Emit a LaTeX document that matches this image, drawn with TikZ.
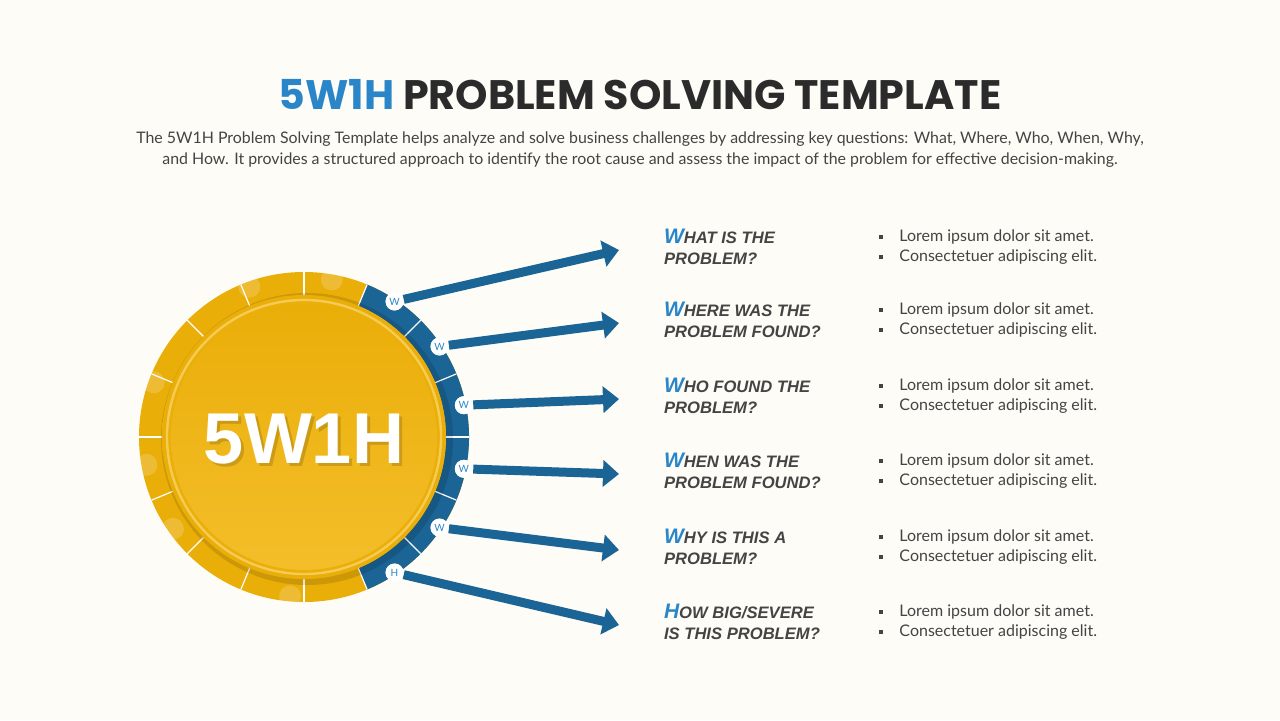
\documentclass[tikz,border=0pt]{standalone}
\usepackage{fontspec}
\setmainfont{Lato}
\newfontfamily\titlef{Poppins}
\newfontfamily\headf{Liberation Sans}
\usetikzlibrary{arrows.meta,calc}
\definecolor{bg}{HTML}{FDFCF6}
\definecolor{blu}{HTML}{1A6496}
\definecolor{lblu}{HTML}{2A86C8}
\definecolor{yel}{HTML}{EAAE08}
\definecolor{yel2}{HTML}{F4BE2A}
\definecolor{dark}{HTML}{2B2B2B}
\definecolor{txt}{HTML}{444444}
\tikzset{
  arr/.style={blu,line width=4.5pt,-{Triangle[length=8pt,width=13pt]}},
  wc/.style={circle,fill=white,inner sep=0pt,minimum size=9pt,font=\fontsize{5}{5}\selectfont\color{lblu}},
  head/.style={anchor=west,align=left,font=\headf\bfseries\itshape\fontsize{8.3}{10.3}\selectfont\color{txt}},
  bul/.style={anchor=west,align=left,font=\fontsize{8}{10}\selectfont\color{txt}}
}
\newcommand{\bw}[1]{{\fontsize{10.5}{10}\selectfont\color{lblu}#1}}
\newcommand{\sq}{\raisebox{1.2pt}{\rule{2.2pt}{2.2pt}}\hspace{8pt}}
\begin{document}
\begin{tikzpicture}[x=0.5pt,y=-0.5pt]
\fill[bg] (0,0) rectangle (1280,720);
\node (title) at (640,95) {\titlef\bfseries\fontsize{20.6}{24}\selectfont\color{lblu}5W1H \color{dark}PROBLEM SOLVING TEMPLATE};
\node[align=center,font=\fontsize{7.95}{10.5}\selectfont\color{txt}] (desc) at (640,150) {The 5W1H Problem Solving Template helps analyze and solve business challenges by addressing key questions: What, Where, Who, When, Why,\\and How. It provides a structured approach to identify the root cause and assess the impact of the problem for effective decision-making.};
% wheel
\coordinate (c) at (304,437);
\fill[yel] (c) circle[radius=165];
\fill[blu] ($(c)+(-67.5:165)$) arc[start angle=-67.5,end angle=67.5,radius=165] -- ($(c)+(67.5:142)$) arc[start angle=67.5,end angle=-67.5,radius=142] -- cycle;
\foreach \a in {0,22.5,...,337.5}{\draw[white,line width=0.6pt] ($(c)+(\a:142)$) -- ($(c)+(\a:165)$);}
\foreach \a in {95,145,170,200,250,280}{\fill[white,opacity=0.18] ($(c)+(\a:160)$) circle[radius=11];}
\fill[black,opacity=0.12] ($(c)+(3,2)$) circle[radius=146];
\shade[inner color=yel2,outer color=yel] (c) circle[radius=142];
\draw[yel2!80!white,line width=1.2pt] (c) circle[radius=137];
\shade[top color=yel,bottom color=yel2] (c) circle[radius=133];
\node[font=\headf\bfseries\fontsize{36}{36}\selectfont,text=black,opacity=0.15] at (307,442) {5W1H};
\node[font=\headf\bfseries\fontsize{36}{36}\selectfont,text=white] (core) at (304,439) {5W1H};
% items
\foreach \i/\a/\y/\l/\h/\hh in {
 1/56.25/250/W/{HAT IS THE}/{PROBLEM?},
 2/33.75/323/W/{HERE WAS THE}/{PROBLEM FOUND?},
 3/11.25/399/W/{HO FOUND THE}/{PROBLEM?},
 4/-11.25/474/W/{HEN WAS THE}/{PROBLEM FOUND?},
 5/-33.75/550/W/{HY IS THIS A}/{PROBLEM?},
 6/-56.25/625/H/{OW BIG/SEVERE}/{IS THIS PROBLEM?}}{
  \coordinate (t\i) at (619,\y);
  \node[wc] (w\i) at ($(c)+(-\a:163)$) {\l};
  \draw[arr] (w\i) -- (t\i);
  \node[wc] at (w\i) {\l};
  \node[head] (h\i) at (657,\y-3) {\bw{\l}\h\\\hh};
  \node[bul] (b\i) at (872,\y-3) {\sq Lorem ipsum dolor sit amet.\\\sq Consectetuer adipiscing elit.};
}
\end{tikzpicture}
\end{document}
